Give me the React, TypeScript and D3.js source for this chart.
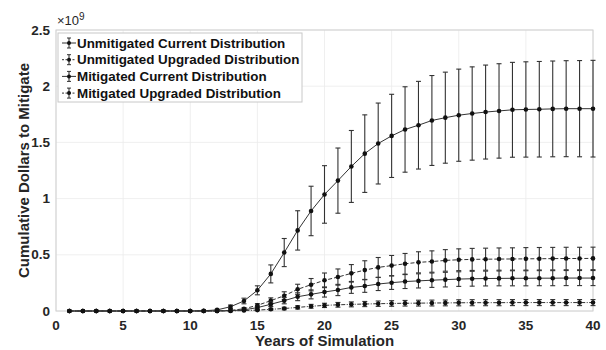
import * as d3 from "d3"
import React from "react"

// years 1..40
const years = d3.range(1, 41)

const seriesNames = [
    "Unmitigated Current Distribution",
    "Unmitigated Upgraded Distribution",
    "Mitigated Current Distribution",
    "Mitigated Upgraded Distribution",
]

// values in units of 1e9 dollars
const unmitCurrent = [
    0, 0, 0, 0, 0, 0, 0, 0, 0, 0, 0.002, 0.01, 0.038, 0.089, 0.184, 0.33, 0.52, 0.717, 0.89, 1.037,
    1.16, 1.286, 1.4, 1.49, 1.558, 1.615, 1.653, 1.695, 1.72, 1.742, 1.757, 1.77, 1.78, 1.79, 1.793, 1.795, 1.798, 1.8, 1.8, 1.8,
]
const unmitCurrentErr = [
    0, 0, 0, 0, 0, 0, 0, 0, 0, 0, 0, 0.005, 0.015, 0.025, 0.04, 0.08, 0.125, 0.175, 0.22, 0.256,
    0.29, 0.32, 0.345, 0.36, 0.37, 0.38, 0.39, 0.4, 0.405, 0.41, 0.415, 0.418, 0.42, 0.422, 0.424, 0.425, 0.426, 0.427, 0.428, 0.43,
]
const unmitUpgraded = [
    0, 0, 0, 0, 0, 0, 0, 0, 0, 0, 0, 0.001, 0.005, 0.02, 0.05, 0.092, 0.136, 0.193, 0.234, 0.273,
    0.302, 0.335, 0.364, 0.388, 0.404, 0.42, 0.433, 0.44, 0.45, 0.456, 0.459, 0.461, 0.462, 0.463, 0.464, 0.465, 0.466, 0.467, 0.467, 0.468,
]
const unmitUpgradedErr = [
    0, 0, 0, 0, 0, 0, 0, 0, 0, 0, 0, 0, 0.003, 0.008, 0.015, 0.025, 0.035, 0.045, 0.055, 0.065,
    0.072, 0.078, 0.083, 0.088, 0.09, 0.092, 0.094, 0.095, 0.096, 0.097, 0.098, 0.098, 0.099, 0.099, 0.1, 0.1, 0.1, 0.1, 0.1, 0.1,
]
const mitCurrent = [
    0, 0, 0, 0, 0, 0, 0, 0, 0, 0, 0, 0, 0.003, 0.01, 0.03, 0.06, 0.092, 0.127, 0.148, 0.169,
    0.187, 0.21, 0.222, 0.24, 0.252, 0.262, 0.268, 0.274, 0.279, 0.284, 0.287, 0.289, 0.29, 0.291, 0.291, 0.292, 0.292, 0.293, 0.293, 0.293,
]
const mitCurrentErr = [
    0, 0, 0, 0, 0, 0, 0, 0, 0, 0, 0, 0, 0.002, 0.006, 0.012, 0.02, 0.028, 0.035, 0.04, 0.045,
    0.05, 0.053, 0.056, 0.058, 0.06, 0.062, 0.063, 0.064, 0.065, 0.065, 0.066, 0.066, 0.066, 0.067, 0.067, 0.067, 0.067, 0.067, 0.067, 0.067,
]
const mitUpgraded = [
    0, 0, 0, 0, 0, 0, 0, 0, 0, 0, 0, 0, 0.001, 0.004, 0.008, 0.015, 0.022, 0.032, 0.042, 0.05,
    0.055, 0.059, 0.062, 0.065, 0.067, 0.069, 0.07, 0.071, 0.072, 0.073, 0.074, 0.074, 0.074, 0.075, 0.075, 0.075, 0.075, 0.075, 0.075, 0.075,
]
const mitUpgradedErr = [
    0, 0, 0, 0, 0, 0, 0, 0, 0, 0, 0, 0, 0.001, 0.003, 0.005, 0.008, 0.011, 0.014, 0.017, 0.019,
    0.021, 0.022, 0.023, 0.024, 0.025, 0.025, 0.026, 0.026, 0.026, 0.027, 0.027, 0.027, 0.027, 0.027, 0.027, 0.027, 0.027, 0.027, 0.027, 0.027,
]

const xTicks = [0, 5, 10, 15, 20, 25, 30, 35, 40]
const yTicks = [0, 0.5, 1, 1.5, 2, 2.5]

const seriesValues = [unmitCurrent, unmitUpgraded, mitCurrent, mitUpgraded]
const seriesErrors = [unmitCurrentErr, unmitUpgradedErr, mitCurrentErr, mitUpgradedErr]
const dashes = ["none", "4,2", "none", "4,1.5,1,1.5"]

const width = 606
const height = 350
const margin = { top: 30, right: 13, bottom: 39, left: 56 }
const font = "'Liberation Sans', Arial, sans-serif"
const ink = "#262626"

const App = () => {
    const x = d3.scaleLinear().domain([0, 40]).range([margin.left, width - margin.right])
    const y = d3.scaleLinear().domain([0, 2.5]).range([height - margin.bottom, margin.top])
    const line = d3.line<number>().x((_, i) => x(years[i])).y((d) => y(d))
    const capW = 2.5

    return (
        <svg width={width} height={height} style={{ position: "absolute", left: 0, top: 0, background: "#fff" }}>
            {/* grid */}
            {xTicks.map((t) => (
                <line key={"gx" + t} x1={x(t)} x2={x(t)} y1={y(0)} y2={y(2.5)} stroke="#ebebeb" strokeWidth={0.8} />
            ))}
            {yTicks.map((t) => (
                <line key={"gy" + t} x1={x(0)} x2={x(40)} y1={y(t)} y2={y(t)} stroke="#ebebeb" strokeWidth={0.8} />
            ))}
            {/* box */}
            <rect x={x(0)} y={y(2.5)} width={x(40) - x(0)} height={y(0) - y(2.5)} fill="none" stroke="#d0d0d0" strokeWidth={1} />

            {/* series */}
            {seriesValues.map((vals, si) => (
                <g key={"s" + si}>
                    <path d={line(vals) || ""} fill="none" stroke="#333" strokeWidth={1} strokeDasharray={dashes[si]} />
                    {vals.map((v, i) => {
                        const e = seriesErrors[si][i]
                        const cx = x(years[i])
                        return (
                            <g key={i}>
                                {e > 0.004 && (
                                    <g stroke="#333" strokeWidth={1.1}>
                                        <line x1={cx} x2={cx} y1={y(v - e)} y2={y(v + e)} />
                                        <line x1={cx - capW} x2={cx + capW} y1={y(v - e)} y2={y(v - e)} />
                                        <line x1={cx - capW} x2={cx + capW} y1={y(v + e)} y2={y(v + e)} />
                                    </g>
                                )}
                                <circle cx={cx} cy={y(v)} r={2.3} fill="#111" />
                            </g>
                        )
                    })}
                </g>
            ))}

            {/* tick labels */}
            {xTicks.map((t) => (
                <text key={"tx" + t} x={x(t)} y={329.5} textAnchor="middle" fontFamily={font} fontWeight="bold" fontSize={13.5} fill={ink}>
                    {t}
                </text>
            ))}
            {yTicks.map((t) => (
                <text key={"ty" + t} x={x(0) - 6} y={y(t) + 4.5} textAnchor="end" fontFamily={font} fontWeight="bold" fontSize={13.5} fill={ink}>
                    {t}
                </text>
            ))}
            <text x={x(0) + 1} y={y(2.5) - 5} fontFamily={font} fontSize={13} fill={ink}>
                ×10<tspan dy={-5} fontSize={10}>9</tspan>
            </text>

            {/* axis labels */}
            <text x={(x(0) + x(40)) / 2} y={345.5} textAnchor="middle" fontFamily={font} fontWeight="bold" fontSize={15} fill={ink}>
                Years of Simulation
            </text>
            <text transform={`translate(28.5,${(y(0) + y(2.5)) / 2}) rotate(-90)`} textAnchor="middle" fontFamily={font} fontWeight="bold" fontSize={15} fill={ink}>
                Cumulative Dollars to Mitigate
            </text>

            {/* legend */}
            <rect x={58} y={33} width={244} height={69} fill="#fff" stroke="#c8c8c8" strokeWidth={1} />
            {seriesNames.map((name, i) => {
                const ly = 43 + i * 16.7
                return (
                    <g key={"l" + i}>
                        <line x1={62} x2={76} y1={ly} y2={ly} stroke="#333" strokeWidth={1} strokeDasharray={dashes[i] === "none" ? "none" : "2,1.5"} />
                        <line x1={69} x2={69} y1={ly - 5} y2={ly + 5} stroke="#333" strokeWidth={1.1} />
                        <line x1={67} x2={71} y1={ly - 5} y2={ly - 5} stroke="#333" strokeWidth={1} />
                        <line x1={67} x2={71} y1={ly + 5} y2={ly + 5} stroke="#333" strokeWidth={1} />
                        <circle cx={69} cy={ly} r={2} fill="#111" />
                        <text x={77} y={ly + 4.5} fontFamily={font} fontWeight="bold" fontSize={13.4} fill="#111">
                            {name}
                        </text>
                    </g>
                )
            })}
        </svg>
    )
}

export default App
